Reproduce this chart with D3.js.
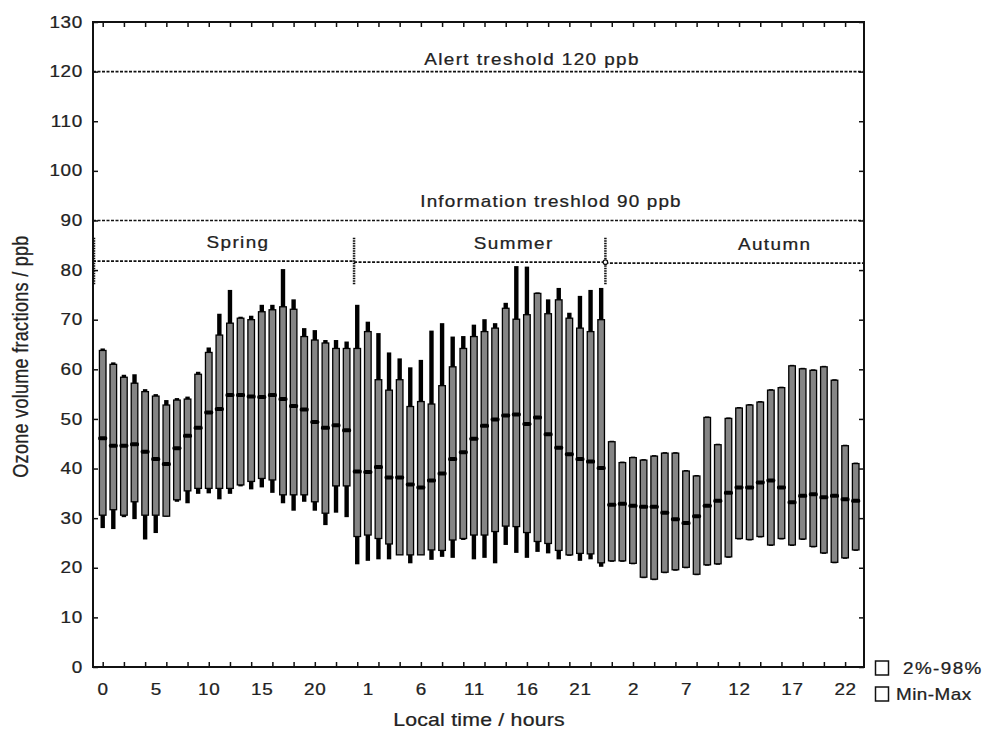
<!DOCTYPE html>
<html>
<head>
<meta charset="utf-8">
<script src="https://cdn.jsdelivr.net/npm/d3@7/dist/d3.min.js"></script>
<style>
  body { margin: 0; background: #fff; }
  svg text { font-family: "Liberation Sans", Arial, Helvetica, sans-serif; fill: #222; stroke: #222; stroke-width: 0.25px; }
</style>
</head>
<body>
<svg id="chart" width="984" height="733"></svg>
<script>
// ---- Data ----
const seasons = ["Spring", "Summer", "Autumn"];
const hours = d3.range(72).map(i => i % 24);           // 0..23 for each season

const maxs = [64.2,61.4,58.9,59.0,56.0,55.0,53.8,54.2,54.5,59.5,64.4,71.2,76.0,70.6,70.8,73.0,73.0,80.2,74.1,68.3,67.9,65.9,65.9,65.6,
              73.0,69.6,67.3,63.4,62.2,60.4,61.9,67.8,69.3,66.6,66.7,69.0,70.1,69.3,73.4,80.8,80.7,75.5,74.1,76.4,71.4,74.8,76.0,76.4,
              45.6,41.4,42.4,41.9,42.7,43.3,43.3,39.7,38.7,50.5,45.0,50.3,52.4,53.0,53.6,56.0,56.5,60.9,60.3,60.0,60.7,58.0,44.8,41.2];
const p98s = [63.8,61.0,58.4,57.2,55.5,54.6,52.8,53.8,54.0,59.0,63.4,66.9,69.3,70.3,70.0,71.6,72.0,72.6,72.1,66.6,65.9,65.3,64.2,64.2,
              64.2,67.6,57.9,55.8,57.9,52.5,53.5,53.0,56.7,60.5,64.2,66.6,67.6,68.3,72.3,70.1,71.0,75.3,71.2,74.0,70.3,68.3,67.6,70.0,
              45.4,41.2,42.2,41.7,42.5,43.1,43.1,39.5,38.5,50.3,44.8,50.1,52.2,52.8,53.4,55.8,56.3,60.7,60.1,59.8,60.5,57.8,44.6,41.0];
const medians = [46.1,44.6,44.6,44.9,43.4,41.9,40.9,44.1,46.6,48.2,51.3,52.0,54.8,54.8,54.5,54.4,54.8,54.0,52.6,51.9,49.4,48.2,48.7,47.7,
                 39.4,39.3,40.3,38.2,38.2,36.8,36.2,37.6,39.0,41.9,43.3,46.0,48.6,49.9,50.7,50.9,49.0,50.3,46.9,44.2,42.9,41.9,41.4,40.1,
                 32.7,32.9,32.5,32.3,32.3,31.1,29.8,29.0,30.4,32.5,33.5,35.1,36.2,36.2,37.2,37.6,36.2,33.2,34.5,34.8,34.2,34.5,33.8,33.5];
const p2s = [30.6,31.7,30.6,33.3,30.6,30.6,30.4,33.7,35.5,36.0,36.0,36.0,36.0,36.7,37.4,38.0,37.7,34.7,34.7,34.7,33.3,31.0,36.5,36.5,
             26.3,26.6,25.9,24.8,22.6,22.6,22.6,23.6,23.5,25.6,25.9,26.6,26.6,27.3,28.4,28.3,27.1,25.3,24.9,23.5,22.6,22.9,22.8,21.0,
             21.4,21.4,20.9,18.1,17.7,19.1,19.6,20.1,18.7,20.6,20.8,22.2,25.9,25.7,26.3,24.6,25.9,24.6,25.8,24.3,23.0,21.1,22.0,23.6];
const mins = [28.0,27.8,30.2,29.8,25.7,27.0,30.3,33.3,33.0,34.9,35.0,33.8,34.9,36.4,35.8,36.2,35.1,33.0,31.5,33.3,31.5,28.6,31.1,30.2,
              20.7,21.4,21.7,21.7,22.6,20.9,22.6,21.6,22.2,22.0,25.6,21.7,22.0,20.9,24.6,23.0,22.0,23.2,22.9,21.7,22.4,21.4,21.7,20.2,
              21.2,21.2,20.7,17.9,17.5,18.9,19.4,19.9,18.5,20.4,20.6,22.0,25.7,25.5,26.1,24.4,25.7,24.4,25.6,24.1,22.8,20.9,21.8,23.4];

const yTicks = d3.range(0, 131, 10);
const xMinorTicks = d3.range(0, 72, 2);
const xLabelIdx = d3.range(0, 72, 5);
const thresholds = [{ value: 120, label: "Alert treshold 120 ppb" },
                    { value: 90, label: "Information treshlod 90 ppb" }];
const seasonStart = [-0.97, 23.7, 47.4];
const seasonEnd = [23.7, 47.4, 71.65];
const seasonLevel = [81.8, 81.6, 81.4];
const legendLabels = ["2%-98%", "Min-Max"];

// ---- Layout ----
const svg = d3.select("#chart");
const L = 93, R = 864, T = 22, B = 667;
const x = d3.scaleLinear().domain([0, 71]).range([102.7, 855.7]);
const y = d3.scaleLinear().domain([0, 130]).range([B, T]);
const SX = 1.18;          // horizontal stretch of the lettering
const tickFont = "16px";
const ls = "1px";

// turn x/y-positioned text into a horizontally stretched one
function stretch(sel, sx = SX) {
  sel.each(function () {
    const t = d3.select(this);
    const tx = +t.attr("x") || 0, ty = +t.attr("y") || 0;
    t.attr("x", 0).attr("y", 0).attr("transform", `translate(${tx},${ty}) scale(${sx},1)`);
  });
}
function label(xp, yp, txt, size, anchor, spacing) {
  const t = svg.append("text").attr("x", xp).attr("y", yp).attr("text-anchor", anchor || "middle")
    .style("font-size", size).style("letter-spacing", spacing || ls).text(txt);
  stretch(t);
  return t;
}

// Threshold lines
thresholds.forEach(t => {
  svg.append("line").attr("x1", L).attr("x2", R).attr("y1", y(t.value)).attr("y2", y(t.value))
     .attr("stroke", "#111").attr("stroke-width", 1.6).attr("stroke-dasharray", "3,1.5");
});
label(532, y(120) - 7, thresholds[0].label, tickFont, "middle", "1.2px");
label(551, y(90) - 13, thresholds[1].label, tickFont, "middle", "1.0px");

// Season lines and dividers
seasons.forEach((s, k) => {
  const x0 = k === 0 ? L : x(seasonStart[k]);
  const x1 = k === 2 ? R : x(seasonEnd[k]);
  svg.append("line").attr("x1", x0).attr("x2", x1).attr("y1", y(seasonLevel[k])).attr("y2", y(seasonLevel[k]))
     .attr("stroke", "#111").attr("stroke-width", 1.6).attr("stroke-dasharray", "3,1.5");
  const xd = k === 0 ? L + 1 : x(seasonStart[k]);
  svg.append("line").attr("x1", xd).attr("x2", xd).attr("y1", y(86.5)).attr("y2", y(77))
     .attr("stroke", "#111").attr("stroke-width", 2.5).attr("stroke-dasharray", "1.5,1");
  const cx = k === 0 ? 238 : (x0 + x1) / 2 + (k === 1 ? 34 : 40);
  label(cx, y(seasonLevel[k]) - 13, s, tickFont, "middle", "1.2px");
});
svg.append("circle").attr("cx", x(seasonStart[2])).attr("cy", y(seasonLevel[1])).attr("r", 2.2)
   .attr("fill", "#fff").attr("stroke", "#111").attr("stroke-width", 1.2);

// Boxes
const idx = d3.range(72);
const g = svg.append("g");
g.selectAll("rect.whisk").data(idx).join("rect").attr("class", "whisk")
  .attr("x", i => x(i) - 2.2).attr("width", 4.4)
  .attr("y", i => y(maxs[i])).attr("height", i => y(mins[i]) - y(maxs[i]))
  .attr("fill", "#000");
g.selectAll("rect.box").data(idx).join("rect").attr("class", "box")
  .attr("x", i => x(i) - 3.3).attr("width", 6.6)
  .attr("y", i => y(p98s[i])).attr("height", i => y(p2s[i]) - y(p98s[i]))
  .attr("fill", "#858585").attr("stroke", "#000").attr("stroke-width", 1.3);
g.selectAll("rect.med").data(idx).join("rect").attr("class", "med")
  .attr("x", i => x(i) - 4.5).attr("width", 9)
  .attr("y", i => y(medians[i]) - 2).attr("height", 4).attr("rx", 1.6)
  .attr("fill", "#000");

// Axes
const axL = svg.append("g").attr("transform", `translate(${L},0)`)
  .call(d3.axisLeft(y).tickValues(yTicks).tickSizeInner(-5).tickSizeOuter(0).tickPadding(10));
const axR = svg.append("g").attr("transform", `translate(${R},0)`)
  .call(d3.axisRight(y).tickValues(yTicks).tickSizeInner(-5).tickSizeOuter(0).tickFormat(""));
const axB = svg.append("g").attr("transform", `translate(0,${B})`)
  .call(d3.axisBottom(x).tickValues(xMinorTicks).tickSizeInner(-5).tickSizeOuter(0).tickFormat(""));
const axT = svg.append("g").attr("transform", `translate(0,${T})`)
  .call(d3.axisTop(x).tickValues(xMinorTicks).tickSizeInner(-5).tickSizeOuter(0).tickFormat(""));
const axBL = svg.append("g").attr("transform", `translate(0,${B})`)
  .call(d3.axisBottom(x).tickValues(xLabelIdx).tickSize(0).tickPadding(17).tickFormat(i => hours[i]));
[axL, axR, axB, axT, axBL].forEach(a => {
  a.select(".domain").remove();
  a.selectAll("line").attr("stroke", "#111").attr("stroke-width", 1.5);
  a.selectAll("text").style("font-size", tickFont).style("letter-spacing", "0.6px")
   .style("font-family", '"Liberation Sans", Arial, sans-serif').attr("fill", "#222");
});
stretch(axL.selectAll("text"));
stretch(axBL.selectAll("text"));

// Frame
svg.append("rect").attr("x", L).attr("y", T).attr("width", R - L).attr("height", B - T)
   .attr("fill", "none").attr("stroke", "#111").attr("stroke-width", 2);

// Axis titles
svg.append("text").attr("transform", `translate(28,${(T + B) / 2 + 12}) scale(${SX},1) rotate(-90)`)
   .attr("text-anchor", "middle").style("font-size", "18px").style("letter-spacing", "0.3px")
   .text("Ozone volume fractions / ppb");
label(479, 726, "Local time / hours", "18px", "middle", "0.2px");

// Legend
legendLabels.forEach((lab, k) => {
  const ly = 661 + k * 26;
  svg.append("rect").attr("x", 875.5).attr("y", ly).attr("width", 13).attr("height", 14)
     .attr("fill", "#fff").attr("stroke", "#111").attr("stroke-width", 1.5);
  label(k === 0 ? 903 : 896, ly + 12.5, lab, tickFont, "start", k === 0 ? "1.2px" : "0.4px");
});
</script>
</body>
</html>
